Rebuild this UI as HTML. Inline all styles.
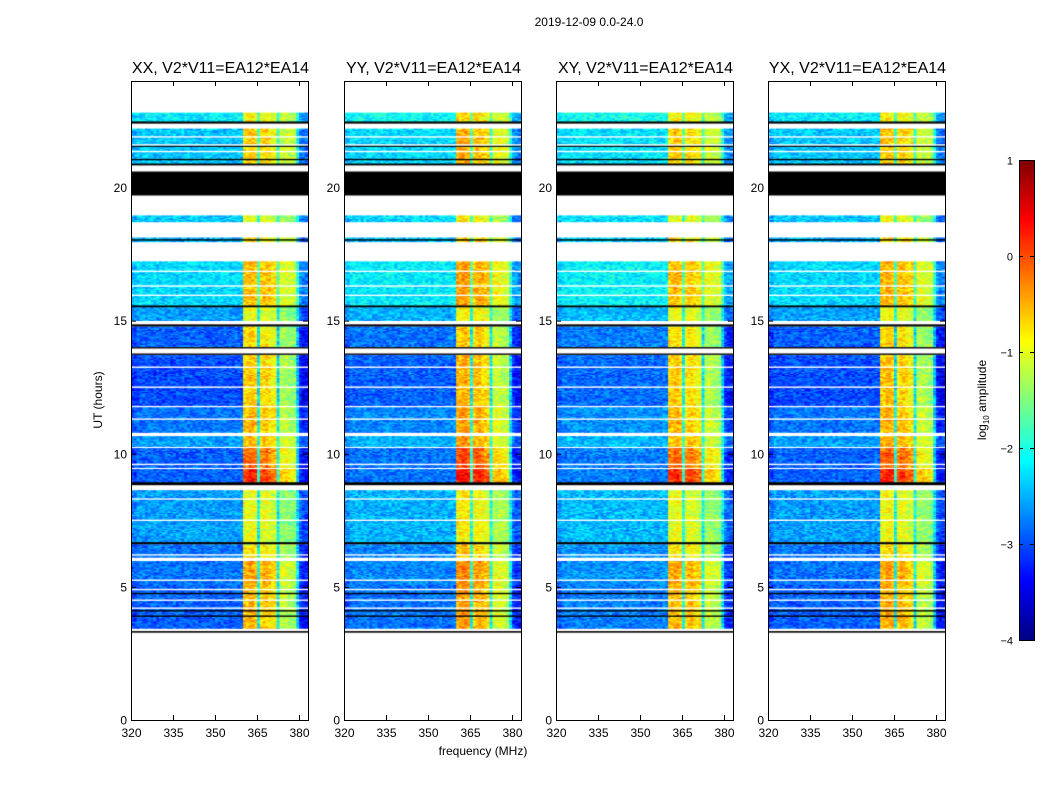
<!DOCTYPE html>
<html><head><meta charset="utf-8"><style>
body{margin:0;background:#fff;width:1050px;height:800px;overflow:hidden;font-family:"Liberation Sans",sans-serif;}
svg{position:absolute;left:0;top:0}
canvas{position:absolute}
</style></head><body>
<canvas id="c0" width="177" height="639" style="left:131px;top:81px"></canvas>
<canvas id="c1" width="177" height="639" style="left:344px;top:81px"></canvas>
<canvas id="c2" width="177" height="639" style="left:556px;top:81px"></canvas>
<canvas id="c3" width="177" height="639" style="left:768px;top:81px"></canvas>
<canvas id="cb" width="15" height="480" style="left:1019px;top:160px"></canvas>
<svg id="s" width="1050" height="800"></svg>
<script>
const panelTitles=["XX, V2*V11=EA12*EA14","YY, V2*V11=EA12*EA14","XY, V2*V11=EA12*EA14","YX, V2*V11=EA12*EA14"];
const xTicks=[320,335,350,365,380];
const yTicks=[0,5,10,15,20];
const cbTicks=[1,0,-1,-2,-3,-4];
// data segments: start hour, end hour, base level (log10), band level
const segStart=[22.81,22.21,18.95,18.12,17.22,15.50,14.78,13.70,11.74,10.66,10.21,9.42,8.63,6.60,5.97,5.07];
const segEnd  =[22.48,20.90,18.72,17.97,15.57,15.01,14.03,11.82,10.81,10.28,9.49,8.93,6.68,6.12,5.07,3.45];
const segBase =[-2.2,-2.4,-2.4,-2.5,-2.3,-2.6,-2.9,-3.0,-2.8,-2.6,-2.9,-2.9,-2.6,-2.8,-2.8,-2.9];
const segBand =[-0.9,-0.7,-1.0,-0.8,-0.6,-1.0,-0.8,-0.7,-0.6,-0.6,-0.2,0.1,-1.0,-0.8,-0.5,-0.6];
// flagged black blocks
const blackStart=[22.48,20.90,20.60,15.57,14.86,8.93,6.68,3.34];
const blackEnd  =[22.40,20.83,19.70,15.50,14.78,8.82,6.60,3.28];
const blackLines=[21.55,21.05,18.03,13.98,13.74,4.75,4.1,3.9];
const whiteLines=[21.9,21.6,21.35,16.85,16.3,15.95,13.25,12.5,11.3,9.6,8.3,7.5,6.2,5.25,4.9,4.5,4.2];
// band weight per 1 MHz channel, 320..382
const colWeight=[-0.1,-0.1,0,0,0,0,0,0,0,0,0,0,0,0,0,0,0,0,0,0,0,0,0,0,0,0,0,0,0,0,0,0,0,0,0,0,0,0,0,0,
 1.0,1.0,1.05,1.05,1.0,0.3,0.95,1.0,1.0,0.95,0.9,0.9,0.3,0.75,0.75,0.75,0.7,0.7,0.65,0.2,-0.2,-0.3,-0.3];
const panelBaseShift=[0,0.1,0.15,0];
const panelBandShift=[0,0.15,0,0.05];

const L=[131,344,556,768],T=81,W=177,H=639;
const fx=f=>(f-320)*2.8;
const hy=h=>H-h*26.625;
function jet(v){let t=Math.max(0,Math.min(1,(v+4)/5));
 const c=x=>Math.max(0,Math.min(1,x));
 const r=c(Math.min(4*t-1.5,-4*t+4.5)),g=c(Math.min(4*t-0.5,-4*t+3.5)),b=c(Math.min(4*t+0.5,-4*t+2.5));
 return `rgb(${r*255|0},${g*255|0},${b*255|0})`;}
function hash(a,b,p){let h=(a*374761393+b*668265263+p*982451653)|0;h=(h^(h>>>13))*1274126177|0;return((h^(h>>>16))>>>0)/4294967296;}
for(let p=0;p<4;p++){
 const ctx=document.getElementById('c'+p).getContext('2d');
 const dt=0.04;
 for(let s=0;s<segStart.length;s++){
  const hTop=segStart[s],hBot=segEnd[s];
  let ri=0;
  for(let h=hBot;h<hTop;h+=dt,ri++){
   for(let k=0;k<colWeight.length;k++){
    const w=colWeight[k];
    const base=segBase[s]+panelBaseShift[p];
    const band=segBand[s]+panelBandShift[p];
    let v=base+w*(band-base);
    if(w<0) v=base+w*1.5;
    v+=(hash(k,ri+s*100,p)-0.5)*0.7;
    ctx.fillStyle=jet(v);
    const x0=fx(320+k),x1=fx(321+k);
    const y0=hy(Math.min(h+dt,hTop)),y1=hy(h);
    ctx.fillRect(x0,y0,x1-x0+0.6,y1-y0+0.6);
   }
  }
 }
 ctx.fillStyle='#000';
 for(let i=0;i<blackStart.length;i++){const y0=hy(blackStart[i]),y1=hy(blackEnd[i]);ctx.fillRect(0,y0,W,y1-y0);}
 for(const b of blackLines){ctx.fillRect(0,hy(b)-0.7,W,1.4);}
 ctx.fillStyle='#fff';
 for(const b of whiteLines){ctx.fillRect(0,hy(b)-0.7,W,1.4);}
}
const cb=document.getElementById('cb').getContext('2d');
for(let i=0;i<480;i++){cb.fillStyle=jet(1-5*i/480);cb.fillRect(0,i,15,1.2);}

const NS='http://www.w3.org/2000/svg',S=document.getElementById('s');
function el(tag,a,txt){const e=document.createElementNS(NS,tag);for(const k in a)e.setAttribute(k,a[k]);if(txt!==undefined)e.textContent=txt;S.appendChild(e);return e;}
const sup=el('text',{x:589,y:26,'text-anchor':'middle','font-size':12},'2019-12-09 0.0-24.0');


for(let p=0;p<4;p++){
 const x0=L[p];
 const fr=el('rect',{x:x0+0.5,y:T+0.5,width:W,height:H,fill:'none',stroke:'#000','stroke-width':1});
 
 
 const t=el('text',{x:x0+W/2+1,y:73,'text-anchor':'middle','font-size':16},panelTitles[p]);
 
 
 for(const f of xTicks){const x=x0+fx(f)+0.5;
  el('line',{x1:x,x2:x,y1:T+H,y2:T+H-5,stroke:'#000'});
  el('line',{x1:x,x2:x,y1:T,y2:T+5,stroke:'#000'});
  const l=el('text',{x:x,y:T+H+17,'text-anchor':'middle','font-size':12},f);
  
  }
 for(const h of yTicks){const y=T+hy(h)+0.5;
  el('line',{x1:x0,x2:x0+5,y1:y,y2:y,stroke:'#000'});
  el('line',{x1:x0+W,x2:x0+W-5,y1:y,y2:y,stroke:'#000'});
  const l=el('text',{x:x0-4,y:y+4,'text-anchor':'end','font-size':12},h);
  
  }
}
const xl=el('text',{x:483,y:755,'text-anchor':'middle','font-size':12},'frequency (MHz)');


const yl=el('text',{x:102,y:400,'text-anchor':'middle','font-size':12,transform:'rotate(-90 102 400)'},'UT (hours)');


el('rect',{x:1019.5,y:160.5,width:15,height:480,fill:'none',stroke:'#000'});
for(const v of cbTicks){const y=160+(1-v)*96+0.5;
 el('line',{x1:1019,x2:1023,y1:y,y2:y,stroke:'#000'});
 el('line',{x1:1034,x2:1030,y1:y,y2:y,stroke:'#000'});
 const l=el('text',{x:1013,y:y+4,'text-anchor':'end','font-size':11},v<0?'\u2212'+(-v):v);
 
 }
const cl=el('text',{x:986,y:400,'text-anchor':'middle','font-size':12,transform:'rotate(-90 986 400)'});


cl.innerHTML='log<tspan font-size="8" dy="3">10</tspan><tspan dy="-3"> amplitude</tspan>';
</script>
</body></html>
